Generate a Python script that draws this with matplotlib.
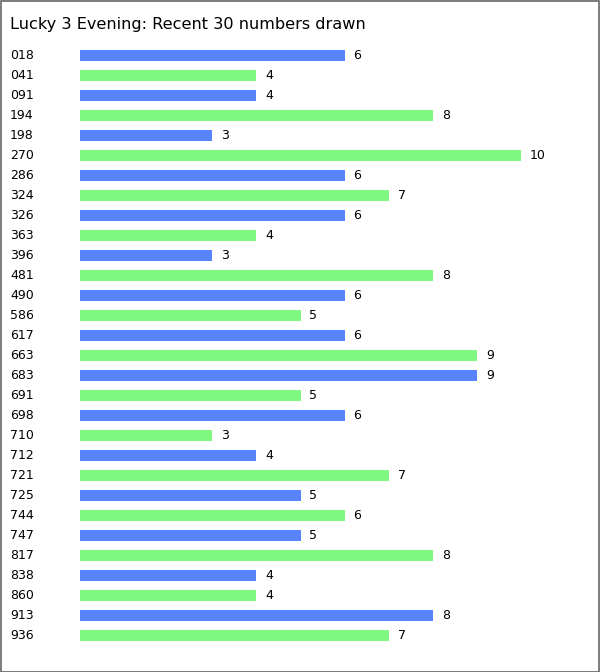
import matplotlib
matplotlib.use("Agg")
import matplotlib.pyplot as plt
from matplotlib.patches import Rectangle
from matplotlib.transforms import blended_transform_factory

# Data
numbers = ["018", "041", "091", "194", "198", "270", "286", "324", "326", "363",
           "396", "481", "490", "586", "617", "663", "683", "691", "698", "710",
           "712", "721", "725", "744", "747", "817", "838", "860", "913", "936"]
counts = [6, 4, 4, 8, 3, 10, 6, 7, 6, 4,
          3, 8, 6, 5, 6, 9, 9, 5, 6, 3,
          4, 7, 5, 6, 5, 8, 4, 4, 8, 7]
title = "Lucky 3 Evening: Recent 30 numbers drawn"

blue = "#5885ff"
green = "#80f880"

W, H = 600, 672
fig = plt.figure(figsize=(W / 100, H / 100), dpi=100)
fig.patch.set_facecolor("white")

# axes placed in pixel space: x 0..10 -> 80..521 px, rows centred at 55.5 + 20*i
left, right = 80, 521
top, bottom = 45.5, 645.5
ax = fig.add_axes([left / W, 1 - bottom / H, (right - left) / W, (bottom - top) / H])
ax.set_xlim(0, 10)
ax.set_ylim(len(numbers) - 0.5, -0.5)
ax.axis("off")

colors = [blue if i % 2 == 0 else green for i in range(len(numbers))]
ax.barh(range(len(numbers)), counts, height=0.55, color=colors, linewidth=0)

label_tr = blended_transform_factory(fig.transFigure, ax.transData)
for i, (n, c) in enumerate(zip(numbers, counts)):
    ax.annotate(str(c), (c, i), xytext=(9, 0), textcoords="offset pixels",
                va="center", ha="left", fontsize=9, color="black")
    fig.text(10 / W, i, n, transform=label_tr,
             va="center", ha="left", fontsize=9, color="black")

fig.text(10 / W, 1 - 24 / H, title, ha="left", va="center", fontsize=11.6, color="black")

# grey frame round the whole picture
fig.patches.append(Rectangle((0.5 / W, 0.5 / H), 1 - 1.5 / W, 1 - 1.5 / H, transform=fig.transFigure,
                             fill=False, edgecolor="#666666", linewidth=1.2))

fig.savefig("out.png", dpi=100)
